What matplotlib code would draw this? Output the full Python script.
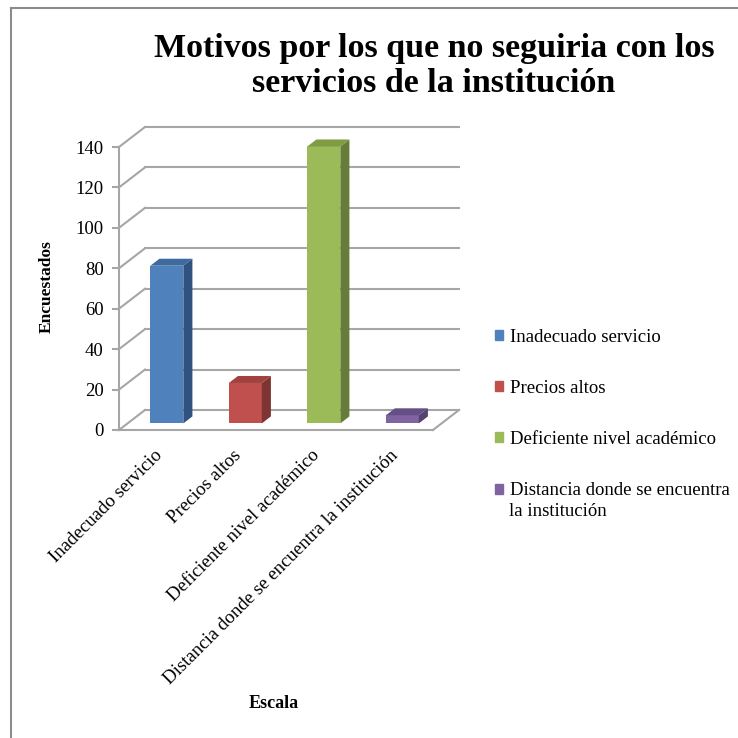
import numpy as np
import matplotlib.pyplot as plt
import matplotlib.transforms as mtransforms
from matplotlib.patches import Polygon, Patch
from matplotlib.lines import Line2D

categorias = ['Inadecuado servicio', 'Precios altos', 'Deficiente nivel académico',
              'Distancia donde se encuentra la institución']
leyenda = ['Inadecuado servicio', 'Precios altos', 'Deficiente nivel académico',
           'Distancia donde se encuentra']
leyenda_extra = 'la institución'
encuestados = [78, 20, 137, 4]
ticks_y = [0, 20, 40, 60, 80, 100, 120, 140]

frente = ['#4F81BD', '#C0504D', '#9BBB59', '#8064A2']
lado = ['#30527E', '#7E3431', '#657D38', '#54426F']
tapa = ['#3E6A9E', '#A2423F', '#7F9C44', '#654F86']
gris = '#A6A6A6'

plt.rcParams['font.family'] = ['Liberation Serif', 'DejaVu Serif']

W = 738
fig = plt.figure(figsize=(W / 100, W / 100), dpi=100)

# marco del grafico (solo borde izquierdo y superior)
fig.add_artist(Line2D([11 / W, 11 / W], [0, 1 - 8 / W], color='#8C8C8C', lw=1.5))
fig.add_artist(Line2D([11 / W, 1], [1 - 8 / W, 1 - 8 / W], color='#8C8C8C', lw=1.5))

ax = fig.add_axes([119 / W, (W - 430) / W, 314 / W, 283 / W])
ax.set_xlim(-0.5, 3.5)
ax.set_ylim(0, 140)

# profundidad de la perspectiva en unidades de datos
dx = 26 / 78.5
dy = 20 / (283 / 140)

# paredes: lineas laterales diagonales y lineas horizontales del fondo
for v in ticks_y:
    ax.plot([-0.5, -0.5 + dx], [v, v + dy], color=gris, lw=1.5, clip_on=False, zorder=1)
    ax.plot([-0.5 + dx, 3.5 + dx], [v + dy, v + dy], color=gris, lw=1.5, clip_on=False, zorder=1)
ax.plot([3.5, 3.5 + dx], [0, dy], color=gris, lw=1.5, clip_on=False, zorder=1)

# barras 3D
x = np.arange(len(categorias))
w = 0.42
f0, f1 = 0.33, 0.68
d = f1 - f0
ax.bar(x + f0 * dx, encuestados, width=w, bottom=f0 * dy, color=frente,
       clip_on=False, zorder=3)
for i, v in enumerate(encuestados):
    x0 = i - w / 2 + f0 * dx
    y0 = f0 * dy
    side = [(x0 + w, y0), (x0 + w + d * dx, y0 + d * dy),
            (x0 + w + d * dx, y0 + v + d * dy), (x0 + w, y0 + v)]
    top = [(x0, y0 + v), (x0 + w, y0 + v),
           (x0 + w + d * dx, y0 + v + d * dy), (x0 + d * dx, y0 + v + d * dy)]
    ax.add_patch(Polygon(side, closed=True, color=lado[i], lw=0, clip_on=False, zorder=3))
    ax.add_patch(Polygon(top, closed=True, color=tapa[i], lw=0, clip_on=False, zorder=3))

for s in ['top', 'right']:
    ax.spines[s].set_visible(False)
for s in ['left', 'bottom']:
    ax.spines[s].set_color(gris)
    ax.spines[s].set_linewidth(1.5)

ax.set_yticks(ticks_y)
ax.tick_params(axis='y', length=5, width=1.5, color=gris, labelsize=13.5, pad=6)
ax.set_xticks(x)
ax.set_xticklabels(categorias, rotation=45, ha='right', va='top',
                   rotation_mode='anchor', fontsize=13.6)
ax.tick_params(axis='x', length=0, pad=12)
corrimiento = mtransforms.ScaledTranslation(-4 / 100, 0, fig.dpi_scale_trans)
for lbl in ax.get_xticklabels():
    lbl.set_transform(lbl.get_transform() + corrimiento)

fig.text(47 / W, 1 - 287 / W, 'Encuestados', rotation=90, ha='center', va='center',
         fontsize=12.5, fontweight='bold')
fig.text(274 / W, 1 - 703 / W, 'Escala', ha='center', va='center',
         fontsize=13, fontweight='bold')
fig.text(434 / W, 1 - 66 / W, 'Motivos por los que no seguiria con los\nservicios de la institución',
         ha='center', va='center', fontsize=24.5, fontweight='bold', linespacing=1.15)

handles = [Patch(color=c) for c in frente]
fig.legend(handles, leyenda, loc='upper left', bbox_to_anchor=(487 / W, 1 - 321 / W),
           frameon=False, fontsize=13.5, handlelength=0.45, handleheight=0.45,
           handletextpad=0.35, labelspacing=1.83, borderaxespad=0)
fig.text(509 / W, 1 - 511 / W, leyenda_extra, ha='left', va='center', fontsize=13.5)

fig.savefig('out.png', dpi=100, facecolor='white')
